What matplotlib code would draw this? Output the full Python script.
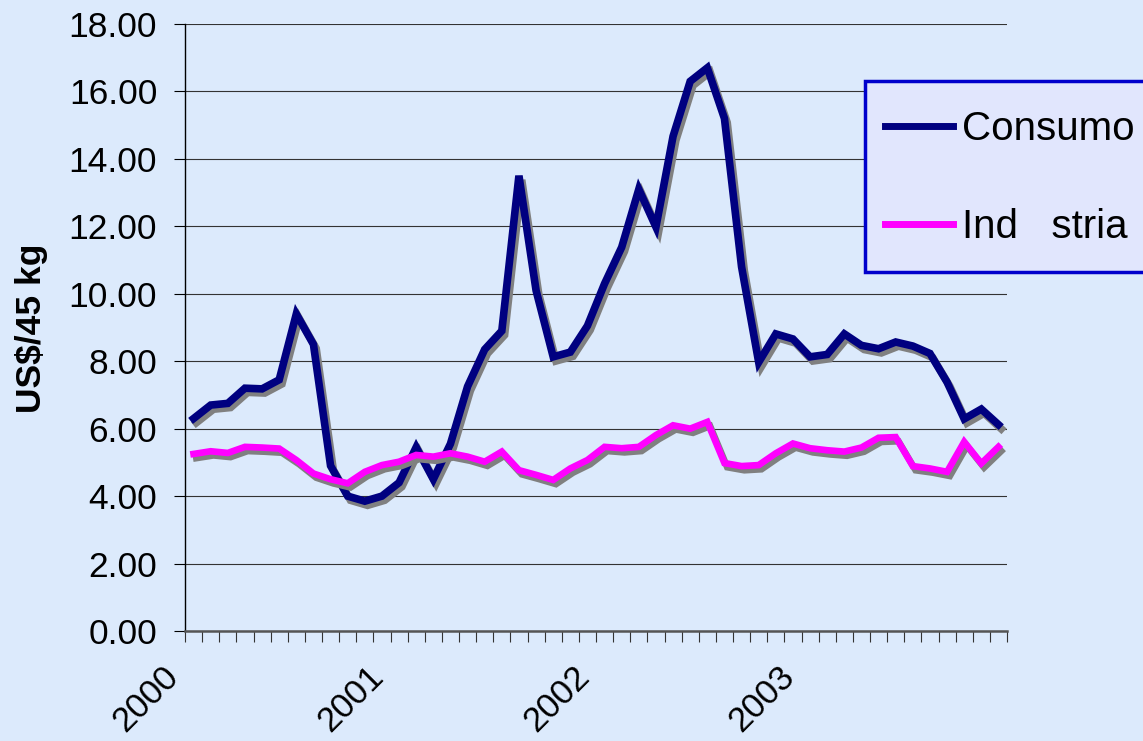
import numpy as np
import matplotlib
matplotlib.use('Agg')
import matplotlib.pyplot as plt
import matplotlib.patheffects as pe
from matplotlib.lines import Line2D
from matplotlib.patches import Rectangle
from matplotlib.transforms import ScaledTranslation

#monthly prices, jan 2000 - dec 2003 (US$/45 kg)
years = ['2000', '2001', '2002', '2003']
consumo = [6.3, 6.7, 6.75, 7.2, 7.18, 7.45, 9.4, 8.5, 4.9, 4.0, 3.85, 4.0,
           4.4, 5.45, 4.5, 5.55, 7.25, 8.35, 8.9, 13.5, 10.1, 8.13, 8.27, 9.05,
           10.3, 11.38, 13.1, 11.98, 14.67, 16.3, 16.7, 15.2, 10.8, 7.97, 8.81, 8.66,
           8.13, 8.2, 8.81, 8.47, 8.37, 8.57, 8.45, 8.23, 7.38, 6.29, 6.58, 6.12]
industria = [5.25, 5.33, 5.28, 5.46, 5.44, 5.41, 5.07, 4.67, 4.5, 4.38, 4.72, 4.92,
             5.02, 5.22, 5.17, 5.27, 5.17, 5.02, 5.32, 4.77, 4.63, 4.48, 4.82, 5.07,
             5.46, 5.42, 5.46, 5.81, 6.1, 6.0, 6.2, 4.98, 4.89, 4.92, 5.27, 5.56,
             5.42, 5.36, 5.32, 5.44, 5.73, 5.75, 4.89, 4.82, 4.72, 5.61, 4.97, 5.46]
labels = ['Consumo', 'Ind   stria']

plt.rcParams['font.family'] = ['Liberation Sans', 'DejaVu Sans']
bg = '#DCEAFC'
W, H = 1143, 741

fig = plt.figure(figsize=(W/100, H/100), dpi=100, facecolor=bg)
ax = fig.add_axes([185/W, 1-631/H, 822/W, 607/H], facecolor=bg)

n = len(consumo)
x = np.arange(n) + 0.5
shadow = [pe.SimpleLineShadow(offset=(2, -3), shadow_color='#808080', alpha=1), pe.Normal()]
ax.plot(x, consumo, color='#000080', lw=5.5, solid_joinstyle='miter', path_effects=shadow, zorder=3)
ax.plot(x, industria, color='#FF00FF', lw=4.8, solid_joinstyle='miter', path_effects=shadow, zorder=4)

ax.set_xlim(0, n)
ax.set_ylim(0, 18)
ax.set_yticks(np.arange(0, 19, 2))
ax.set_yticklabels([f'{v:.2f}' for v in np.arange(0, 19, 2)])
ax.yaxis.grid(True, color='#333333', lw=0.8)
ax.set_axisbelow(True)

xt = np.arange(0, n + 1)
xl = ['' for _ in xt]
for k, yr in enumerate(years):
    xl[k*12] = yr
ax.set_xticks(xt)
ax.set_xticklabels(xl, rotation=45, ha='right')
for lab in ax.get_xticklabels():
    lab.set_transform(lab.get_transform() + ScaledTranslation(-6/72, 0, fig.dpi_scale_trans))

ax.tick_params(axis='y', length=8, width=0.8, color='black', labelsize=25.5, pad=12)
ax.tick_params(axis='x', length=8, width=0.8, color='#333333', labelsize=25, pad=13)

for s in ['top', 'right']:
    ax.spines[s].set_visible(False)
ax.spines['left'].set_color('black')
ax.spines['left'].set_linewidth(1)
ax.spines['bottom'].set_color('#555555')
ax.spines['bottom'].set_linewidth(1.8)

fig.text(32/W, 1-328/H, 'US$/45 kg', rotation=90, ha='center', va='center',
         fontsize=25.5, fontweight='bold')

#legend box drawn separately so the text can sit where it does in the original
fig.patches.append(Rectangle((865/W, 1-272/H), 300/W, 191/H, transform=fig.transFigure,
                             facecolor='#E1E6FD', edgecolor='#0000CC', lw=2.5, zorder=5))
handles = [Line2D([], [], color='#000080', lw=5), Line2D([], [], color='#FF00FF', lw=5)]
leg = fig.legend(handles, labels, loc='upper left', bbox_to_anchor=(885/W, 1-110/H),
                 bbox_transform=fig.transFigure, borderaxespad=0, borderpad=0, fontsize=29,
                 handlelength=1.7, handletextpad=0.22, labelspacing=1.49, frameon=False)
leg.set_zorder(6)

plt.savefig('out.png', dpi=100, facecolor=bg)
